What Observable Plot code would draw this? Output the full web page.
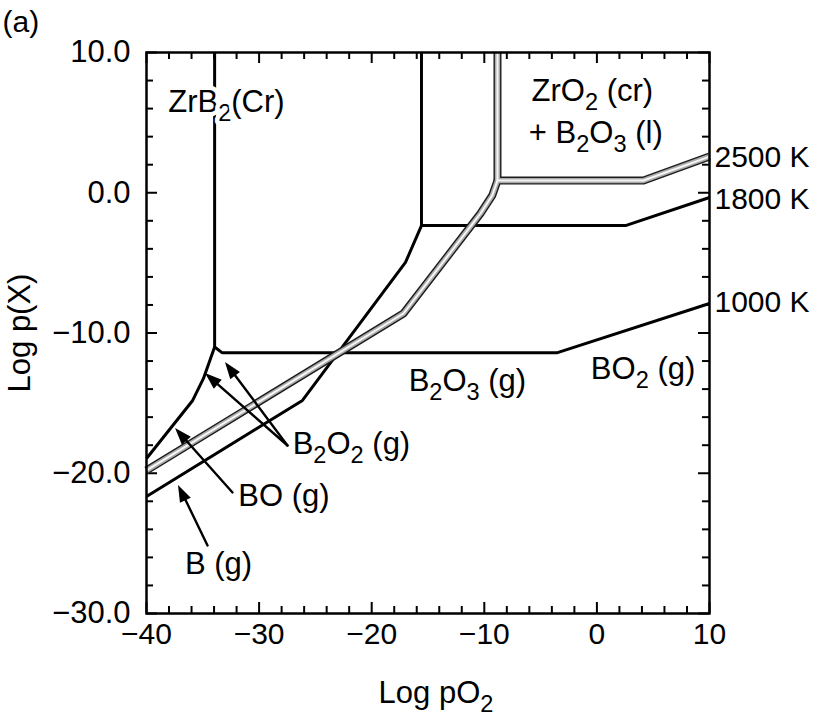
<!DOCTYPE html>
<html><head><meta charset="utf-8">
<script src="https://cdn.jsdelivr.net/npm/d3@7"></script>
<script src="https://cdn.jsdelivr.net/npm/@observablehq/plot@0.6"></script>
<style>body{margin:0;background:#fff}</style>
</head><body><div id="chart"></div>
<script>
// ---- data ----
const xMajor = [-40, -30, -20, -10, 0, 10];
const yMajor = [-30, -20, -10, 0, 10];
const xTickLabels = ["−40", "−30", "−20", "−10", "0", "10"];
const yTickLabels = ["−30.0", "−20.0", "−10.0", "0.0", "10.0"];

// 1000 K boundaries (black)
const b1000 = [[-40,-18.95],[-35.9,-14.81],[-34.94,-13.24],[-33.95,-11.0],[-33.3,-11.4],[-3.5,-11.4],[10,-7.9]];
const b1000v = [[-33.95,10],[-33.95,-11.0]];
// 1800 K boundaries (black)
const b1800 = [[-40,-21.66],[-26.15,-14.81],[-17.0,-4.97],[-15.58,-2.34],[2.54,-2.34],[10,-0.34]];
const b1800v = [[-15.58,10],[-15.58,-2.34]];
// 2500 K boundaries (double grey line)
const b2500 = [[-40,-19.8],[-17.18,-8.61],[-10.34,-1.48],[-9.3,-0.2],[-8.83,0.87],[4.14,0.87],[10,2.58]];
const b2500v = [[-8.83,10],[-8.83,0.87]];

const phaseLabel = [{t:"ZrB_2(Cr)", x:-32.9, y:6.5}];
const labels = [
  {t:"ZrO_2 (cr)", x:-0.4, y:7.25},
  {t:"+ B_2O_3 (l)", x:-0.1, y:4.25},
  {t:"B_2O_3 (g)", x:-11.5, y:-13.45},
  {t:"BO_2 (g)", x:4.1, y:-12.55},
  {t:"B_2O_2 (g)", x:-21.8, y:-17.9},
  {t:"BO (g)", x:-27.8, y:-21.66},
  {t:"B (g)", x:-33.6, y:-26.45}
];
const tempLabels = [
  {t:"2500 K", y:2.55},
  {t:"1800 K", y:-0.45},
  {t:"1000 K", y:-7.85}
];
const arrows = [
  {x1:-34.58, y1:-25.15, x2:-37.16, y2:-20.87},
  {x1:-32.36, y1:-21.37, x2:-37.42, y2:-16.81},
  {x1:-27.48, y1:-18.02, x2:-34.76, y2:-12.89},
  {x1:-27.48, y1:-18.02, x2:-32.99, y2:-12.10}
];

// ---- helpers ----
const toRows = (pts, id) => pts.map(([x, y]) => ({x, y, id}));
const black = [...toRows(b1000, "a"), ...toRows(b1000v, "b"), ...toRows(b1800, "c"), ...toRows(b1800v, "d")];
const grey = [...toRows(b2500, "e"), ...toRows(b2500v, "f")];
const xMinor = d3.range(-40, 10.1, 2).filter(d => !xMajor.includes(d));
const yMinor = d3.range(-30, 10.1, 2).filter(d => !yMajor.includes(d));
const X0 = -40, X1 = 10, Y0 = -30, Y1 = 10;

function heads(index, scales) {
  const ns = "http://www.w3.org/2000/svg";
  const g = document.createElementNS(ns, "g");
  for (const a of arrows) {
    const x1 = scales.x(a.x1), y1 = scales.y(a.y1), x2 = scales.x(a.x2), y2 = scales.y(a.y2);
    const ang = Math.atan2(y2 - y1, x2 - x1), L = 17, W = 6;
    const bx = x2 - L * Math.cos(ang), by = y2 - L * Math.sin(ang);
    const px = -Math.sin(ang) * W, py = Math.cos(ang) * W;
    const p = document.createElementNS(ns, "path");
    p.setAttribute("d", `M${x2},${y2}L${bx + px},${by + py}L${bx - px},${by - py}Z`);
    p.setAttribute("fill", "black");
    g.appendChild(p);
  }
  return g;
}

const tickOpts = {stroke: "black", strokeWidth: 2};
const chart = Plot.plot({
  width: 821, height: 717,
  marginLeft: 146, marginRight: 112, marginTop: 52, marginBottom: 104,
  x: {domain: [X0, X1], axis: null},
  y: {domain: [Y0, Y1], axis: null},
  style: {fontFamily: "'Liberation Sans', Arial, sans-serif", background: "white", color: "black"},
  marks: [
    // inward ticks, all four sides
    Plot.ruleX(xMajor, {x: d => d, y1: Y0, y2: Y0, insetBottom: 11, ...tickOpts}),
    Plot.ruleX(xMinor, {x: d => d, y1: Y0, y2: Y0, insetBottom: 7, ...tickOpts}),
    Plot.ruleX(xMajor, {x: d => d, y1: Y1, y2: Y1, insetTop: 11, ...tickOpts}),
    Plot.ruleX(xMinor, {x: d => d, y1: Y1, y2: Y1, insetTop: 7, ...tickOpts}),
    Plot.ruleY(yMajor, {y: d => d, x1: X0, x2: X0, insetLeft: 11, ...tickOpts}),
    Plot.ruleY(yMinor, {y: d => d, x1: X0, x2: X0, insetLeft: 7, ...tickOpts}),
    Plot.ruleY(yMajor, {y: d => d, x1: X1, x2: X1, insetRight: 11, ...tickOpts}),
    Plot.ruleY(yMinor, {y: d => d, x1: X1, x2: X1, insetRight: 7, ...tickOpts}),
    // tick labels
    Plot.text(xMajor, {x: d => d, y: Y0, dy: 21, text: (d, i) => xTickLabels[i], fontSize: 30, textAnchor: "middle"}),
    Plot.text(yMajor, {y: d => d, x: X0, dx: -16, text: (d, i) => yTickLabels[i], fontSize: 31, textAnchor: "end"}),
    // boundaries
    Plot.line(black, {x: "x", y: "y", z: "id", stroke: "black", strokeWidth: 3, strokeLinecap: "butt", strokeLinejoin: "miter"}),
    Plot.line(grey, {x: "x", y: "y", z: "id", stroke: "#1c1c1c", strokeWidth: 8, strokeLinecap: "butt", strokeLinejoin: "round"}),
    Plot.line(grey, {x: "x", y: "y", z: "id", stroke: "#ababab", strokeWidth: 5.2, strokeLinecap: "butt", strokeLinejoin: "round"}),
    Plot.line(grey, {x: "x", y: "y", z: "id", stroke: "#f6f6f6", strokeWidth: 2, strokeLinecap: "butt", strokeLinejoin: "round"}),
    // arrows
    Plot.arrow(arrows, {x1: "x1", y1: "y1", x2: "x2", y2: "y2", stroke: "black", strokeWidth: 2.4, headLength: 0, insetEnd: 10}),
    heads,
    // labels
    Plot.text(phaseLabel, {x: "x", y: "y", text: "t", textAnchor: "middle", fontSize: 31, fill: "black", stroke: "white", strokeWidth: 9}),
    Plot.text(labels, {x: "x", y: "y", text: "t", textAnchor: "middle", fontSize: 31, fill: "black"}),
    Plot.text(tempLabels, {x: X1, y: "y", text: "t", dx: 5, textAnchor: "start", fontSize: 30}),
    // frame
    Plot.frame({stroke: "black", strokeWidth: 2.5}),
    // axis titles and panel tag
    Plot.text(["Log pO_2"], {frameAnchor: "bottom", textAnchor: "middle", lineAnchor: "middle", dx: 8, dy: 80, fontSize: 31}),
    Plot.text(["Log p(X)"], {frameAnchor: "left", textAnchor: "middle", lineAnchor: "middle", rotate: -90, dx: -126, fontSize: 31}),
    Plot.text(["(a)"], {frameAnchor: "top-left", textAnchor: "start", lineAnchor: "middle", dx: -144, dy: -30, fontSize: 30})
  ]
});

document.getElementById("chart").appendChild(chart);

// subscripts: "_d" -> lowered smaller digit
const ns = "http://www.w3.org/2000/svg";
chart.querySelectorAll("text, tspan").forEach(el => {
  for (const node of [...el.childNodes]) {
    if (node.nodeType !== 3 || !node.nodeValue.includes("_")) continue;
    const parts = node.nodeValue.split(/_(\d)/);
    const frag = document.createDocumentFragment();
    let shifted = false;
    parts.forEach((p, i) => {
      if (!p) return;
      const t = document.createElementNS(ns, "tspan");
      t.textContent = p;
      if (i % 2 === 1) {
        t.setAttribute("font-size", "0.76em");
        t.setAttribute("dy", "9");
        shifted = true;
      } else if (shifted) {
        t.setAttribute("dy", "-9");
        shifted = false;
      }
      frag.appendChild(t);
    });
    el.replaceChild(frag, node);
  }
});
</script></body></html>
